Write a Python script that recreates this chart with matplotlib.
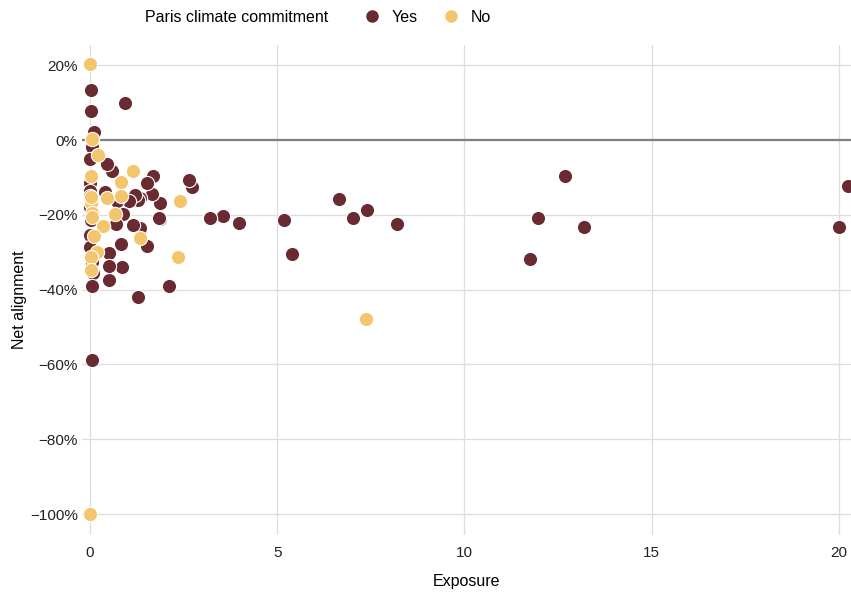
import numpy as np
import matplotlib.pyplot as plt
from matplotlib.lines import Line2D
from matplotlib.ticker import FuncFormatter

plt.rcParams['font.family'] = ['Liberation Sans', 'DejaVu Sans']

# exposure and net alignment (%) by Paris climate commitment
yes_x = [20.24, 20.0, 13.19, 12.68, 11.96, 11.75, 8.2, 7.4, 7.02, 6.65, 5.39, 5.18,
         3.98, 3.55, 3.2, 2.72, 2.64, 2.11, 1.87, 1.87, 1.85, 1.69, 1.66, 1.53, 1.53,
         1.34, 1.34, 1.29, 1.29, 1.2, 1.14, 1.05, 0.93, 0.89, 0.87, 0.82, 0.73, 0.71,
         0.6, 0.52, 0.52, 0.5, 0.45, 0.4, 0.34, 0.11, 0.09, 0.05, 0.05, 0.05, 0.02,
         0.02, 0.0, 0.0, 0.0, 0.0, 0.0, 0.0, 0.0, 0.03, 0.06]
yes_y = [-12.3, -23.3, -23.3, -9.6, -20.9, -31.8, -22.5, -18.7, -20.9, -15.8, -30.5, -21.4,
         -22.2, -20.3, -20.9, -12.5, -10.7, -39.0, -21.0, -16.9, -20.9, -9.6, -14.5, -11.4, -28.3,
         -15.6, -23.4, -16.0, -42.1, -14.7, -22.7, -16.2, 9.9, -19.9, -34.0, -27.8, -16.2, -22.5,
         -8.2, -30.3, -37.4, -33.7, -6.4, -13.8, -23.0, 2.2, -35.5, -1.8, -39.0, -58.8, 13.4,
         7.7, -5.1, -11.5, -13.7, -15.0, -25.4, -28.5, -18.0, -21.5, -32.5]
no_x = [0.0, 0.07, 0.23, 1.16, 0.02, 0.82, 2.40, 0.84, 0.46, 0.03, 0.02, 0.05, 0.67,
        0.34, 0.12, 1.34, 0.18, 0.03, 2.35, 0.02, 7.37, 0.0, 0.05]
no_y = [20.3, 0.2, -4.0, -8.2, -9.6, -11.1, -16.4, -14.9, -15.6, -16.9, -15.2, -19.4, -19.9,
        -23.0, -25.6, -26.1, -29.9, -31.4, -31.3, -34.8, -47.9, -100.0, -20.5]

yes_color = '#692B31'
no_color = '#F3C56D'

fig = plt.figure(figsize=(8.51, 5.98), dpi=100)
ax = fig.add_axes([82 / 851, 63 / 598, 769 / 851, 490 / 598])

ax.scatter(yes_x, yes_y, s=105, color=yes_color, edgecolor='white', linewidth=0.8, zorder=3)
ax.scatter(no_x, no_y, s=105, color=no_color, edgecolor='white', linewidth=0.8, zorder=4)

ax.axhline(0, color='#7f7f7f', linewidth=1.6, zorder=2)

ax.set_xlim(-0.21, 20.32)
ax.set_ylim(-105.6, 25.4)
ax.set_xticks([0, 5, 10, 15, 20])
ax.set_yticks([20, 0, -20, -40, -60, -80, -100])
ax.yaxis.set_major_formatter(FuncFormatter(lambda v, p: '{:.0f}%'.format(v).replace('-', '\u2212')))
ax.grid(True, color='#dddddd', linewidth=0.9)
ax.set_axisbelow(True)
for s in ax.spines.values():
    s.set_visible(False)
ax.tick_params(length=0, labelsize=11, colors='#222222')
ax.tick_params(axis='y', pad=3)
ax.tick_params(axis='x', pad=8)

ax.set_xlabel('Exposure', fontsize=11.5, labelpad=10)
ax.set_ylabel('Net alignment', fontsize=11.5, va='center')
ax.yaxis.set_label_coords(-62 / 769, 0.48)

fig.text(145 / 851, 1 - 17 / 598, 'Paris climate commitment', fontsize=11.5, va='center', ha='left')
handles = [Line2D([], [], marker='o', linestyle='', markersize=8, color=yes_color, label='Yes'),
           Line2D([], [], marker='o', linestyle='', markersize=8, color=no_color, label='No')]
fig.legend(handles=handles, ncol=2, frameon=False, fontsize=11.5,
           loc='center left', bbox_to_anchor=(350 / 851, 1 - 17 / 598),
           handletextpad=0.2, columnspacing=1.1, borderaxespad=0)

fig.savefig('out.png', dpi=100)
